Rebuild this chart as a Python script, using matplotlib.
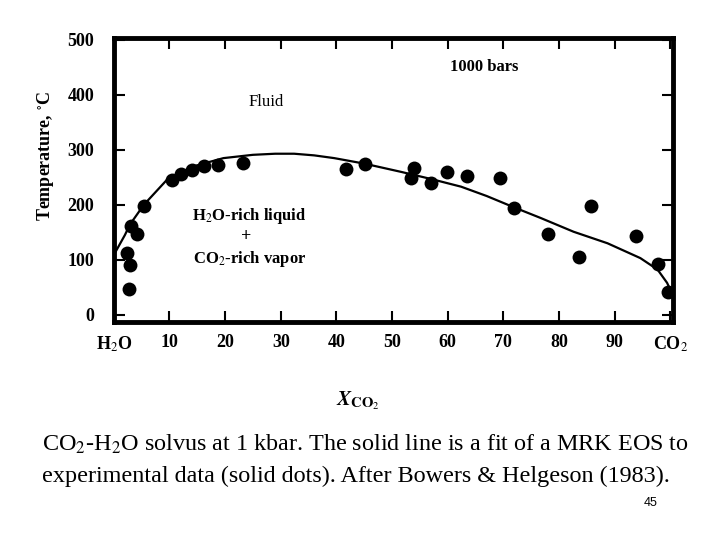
import numpy as np
import matplotlib
matplotlib.use("Agg")
import matplotlib.pyplot as plt

plt.rcParams['font.family'] = ['Liberation Serif', 'DejaVu Serif']
plt.rcParams['mathtext.fontset'] = 'stix'

# experimental data (solid dots), X_CO2 in mol %, T in deg C
x_dots = [2.3, 2.9, 2.7, 3.1, 4.1, 5.5, 10.4, 12.0, 14.0, 16.3, 18.8, 23.3,
          41.8, 45.2, 54.0, 53.4, 57.0, 59.9, 63.4, 69.4, 71.9, 78.0,
          85.7, 83.5, 93.9, 97.7, 99.5]
t_dots = [113, 91, 47, 162, 147, 197, 245, 256, 264, 270, 272, 276,
          266, 274, 267, 249, 240, 260, 253, 249, 195, 147,
          198, 105, 144, 93, 42]

# MRK EOS fit (solid line)
x_fit = [0.3, 0.9, 2.0, 2.9, 5.4, 9.5, 14.3, 19.7, 25.0, 29.0, 32.4, 36.0,
         39.6, 45.0, 51.6, 57.0, 62.4, 67.0, 72.0, 76.7, 82.6, 88.7, 94.6,
         97.7, 99.4, 100.0]
t_fit = [114, 125, 145, 164, 200, 245, 270, 285, 291, 293, 293, 290,
         285, 275, 260, 247, 233, 216, 195, 176, 151, 130, 103,
         82, 58, 45]

x_ticks = [0, 10, 20, 30, 40, 50, 60, 70, 80, 90, 100]
x_ticklabels = ['H$_2$O', '10', '20', '30', '40', '50', '60', '70', '80', '90', 'CO$_2$']
y_ticks = [0, 100, 200, 300, 400, 500]

fig = plt.figure(figsize=(7.2, 5.4), dpi=100)
ax = fig.add_axes([0.158, 0.404, 0.777, 0.526])

ax.plot(x_fit, t_fit, color='black', lw=1.6, zorder=2)
ax.scatter(x_dots, t_dots, s=100, color='black', zorder=3, linewidths=0)

ax.set_xlim(0, 100.5)
ax.set_ylim(-13, 504)
ax.set_xticks(x_ticks)
ax.set_xticklabels(x_ticklabels)
ax.set_yticks(y_ticks)

for sp in ax.spines.values():
    sp.set_linewidth(3.5)
ax.tick_params(direction='in', length=8, width=1.5, top=True, right=True,
               labelsize=13)
ax.tick_params(axis='y', pad=14)
ax.tick_params(axis='x', pad=9)
for lab in ax.get_xticklabels() + ax.get_yticklabels():
    lab.set_fontweight('bold')

ax.set_ylabel('Temperature, $^{\\circ}$C', fontsize=13, fontweight='bold')
ax.yaxis.set_label_coords(-0.104, 0.585)

ax.text(27.4, 388, 'Fluid', fontsize=12, ha='center', va='center')
ax.text(66.5, 450, '1000 bars', fontsize=12, fontweight='bold', ha='center', va='center')
ax.text(24.4, 180, 'H$_2$O-rich liquid', fontsize=12, fontweight='bold', ha='center', va='center')
ax.text(23.8, 143, '+', fontsize=13, fontweight='bold', ha='center', va='center')
ax.text(24.4, 102, 'CO$_2$-rich vapor', fontsize=12, fontweight='bold', ha='center', va='center')

fig.text(0.497, 0.258, '$\\mathbfit{X}_{\\mathbf{CO}_{2}}$', fontsize=15,
         ha='center', va='center')

fig.text(0.058, 0.178, 'CO$_2$-H$_2$O solvus at 1 kbar. The solid line is a fit of a MRK EOS to',
         fontsize=17.4, ha='left', va='center', family='Liberation Serif')
fig.text(0.058, 0.118, 'experimental data (solid dots). After Bowers & Helgeson (1983).',
         fontsize=17.4, ha='left', va='center', family='Liberation Serif')
fig.text(0.904, 0.068, '45', fontsize=9, ha='center', va='center',
         family='Liberation Sans')

fig.savefig('out.png', dpi=100)
